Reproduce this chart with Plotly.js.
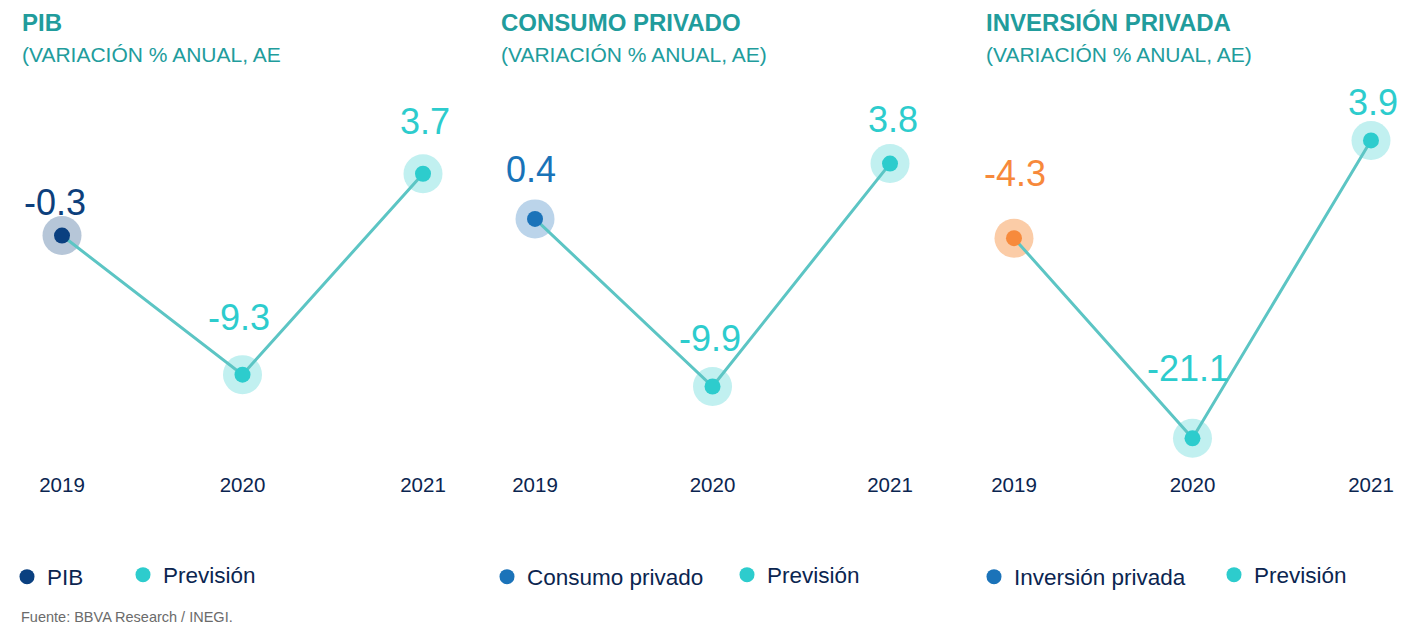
<!DOCTYPE html>
<html>
<head>
<meta charset="utf-8">
<script src="https://cdn.plot.ly/plotly-3.0.1.min.js"></script>
<style>html,body{margin:0;padding:0;background:#fff}#chart{width:1423px;height:635px}</style>
</head>
<body>
<div id="chart"></div>
<script>
// ---- data ----
const years = [2019, 2020, 2021];
const pib = [-0.3, -9.3, 3.7];
const consumo = [0.4, -9.9, 3.8];
const inversion = [-4.3, -21.1, 3.9];
const panelTitles = ['PIB', 'CONSUMO PRIVADO', 'INVERSIÓN PRIVADA'];
const panelSubtitles = ['(VARIACIÓN % ANUAL, AE', '(VARIACIÓN % ANUAL, AE)', '(VARIACIÓN % ANUAL, AE)'];
const legendNames = ['PIB', 'Consumo privado', 'Inversión privada'];
const forecastName = 'Previsión';
const sourceText = 'Fuente: BBVA Research / INEGI.';

// ---- styles ----
const W = 1423, H = 635;
const FONT = 'Liberation Sans, Arial, sans-serif';
const TEAL_TITLE = '#219c9c';
const NAVY_TEXT = '#0b2550';
const AQUA = '#2dcccd', AQUA_HALO = '#c1f0f0';
const LINE = '#5cc5c4';
const panels = [
  {vals: pib, dom: [0, 470], xr: [2018.6565, 2021.2604], yr: [-15.47, 14.94],
   first: '#0a4080', firstHalo: '#b6c6d8', firstLabel: '#0d3f7c', legendColor: '#0a4080',
   titleX: 20, legX: [29, 145], shifts: [[-7,33],[-4,57],[2,52]]},
  {vals: consumo, dom: [480, 950], xr: [2018.690, 2021.338], yr: [-15.03, 13.85],
   first: '#1b73b9', firstHalo: '#bbd4ea', firstLabel: '#1973b8', legendColor: '#1b73b9',
   titleX: 499, legX: [509, 749], shifts: [[-4,49],[-3,48],[3,44]]},
  {vals: inversion, dom: [960, 1423], xr: [2018.6975, 2021.2914], yr: [-23.76, 15.69],
   first: '#f78a3c', firstHalo: '#fbcca7', firstLabel: '#f7893b', legendColor: '#1b73b9',
   titleX: 984, legX: [996, 1236], shifts: [[1,65],[-4,70],[2,38]]}
];
const plotBottom = 470;

const data = [];
const layout = {
  width: W, height: H,
  margin: {l: 0, r: 0, t: 0, b: 0},
  paper_bgcolor: '#fff', plot_bgcolor: 'rgba(0,0,0,0)',
  font: {family: FONT, color: NAVY_TEXT},
  annotations: [],
  showlegend: true
};

let legendIdx = 1;
panels.forEach((p, i) => {
  const xa = 'x' + (i === 0 ? '' : i + 1);
  const ya = 'y' + (i === 0 ? '' : i + 1);
  const xkey = 'xaxis' + (i === 0 ? '' : i + 1);
  const ykey = 'yaxis' + (i === 0 ? '' : i + 1);
  layout[xkey] = {
    domain: [p.dom[0] / W, p.dom[1] / W], range: p.xr, anchor: ya,
    tickvals: years, ticktext: years.map(String), ticks: '', showgrid: false,
    zeroline: false, showline: false, fixedrange: true,
    tickfont: {family: FONT, size: 20.5, color: NAVY_TEXT}
  };
  layout[ykey] = {
    domain: [(H - plotBottom) / H, 1], range: p.yr, anchor: xa,
    visible: false, showgrid: false, zeroline: false, fixedrange: true
  };
  const haloColors = [p.firstHalo, AQUA_HALO, AQUA_HALO];
  const dotColors = [p.first, AQUA, AQUA];
  const labelColors = [p.firstLabel, AQUA, AQUA];
  // halos
  data.push({type: 'scatter', mode: 'markers', x: years, y: p.vals, xaxis: xa, yaxis: ya,
    marker: {size: 39, color: haloColors, line: {width: 0}}, showlegend: false, hoverinfo: 'skip'});
  // line
  data.push({type: 'scatter', mode: 'lines', x: years, y: p.vals, xaxis: xa, yaxis: ya,
    line: {color: LINE, width: 3}, showlegend: false, hoverinfo: 'skip'});
  // dots
  data.push({type: 'scatter', mode: 'markers', x: years, y: p.vals, xaxis: xa, yaxis: ya,
    marker: {size: 16, color: dotColors, line: {width: 0}}, showlegend: false});
  // value labels
  p.vals.forEach((v, j) => {
    layout.annotations.push({
      x: years[j], y: v, xref: xa, yref: ya, text: v.toFixed(1), showarrow: false,
      xshift: p.shifts[j][0], yshift: p.shifts[j][1],
      font: {family: FONT, size: 36, color: labelColors[j]}
    });
  });
  // titles
  layout.annotations.push({
    xref: 'paper', yref: 'paper', x: p.titleX / W, y: 1 - 23 / H, xanchor: 'left', yanchor: 'middle',
    text: '<b>' + panelTitles[i] + '</b>', showarrow: false,
    font: {family: FONT, size: 24, color: TEAL_TITLE}
  });
  layout.annotations.push({
    xref: 'paper', yref: 'paper', x: p.titleX / W, y: 1 - 54 / H, xanchor: 'left', yanchor: 'middle',
    text: panelSubtitles[i], showarrow: false,
    font: {family: FONT, size: 21, color: TEAL_TITLE}
  });
  // legends
  const items = [{name: legendNames[i], color: p.legendColor, cy: 577},
                 {name: forecastName, color: AQUA, cy: 575}];
  items.forEach((it, k) => {
    const key = legendIdx === 1 ? 'legend' : 'legend' + legendIdx;
    data.push({type: 'scatter', mode: 'markers', x: [null], y: [null], xaxis: xa, yaxis: ya,
      name: it.name, legend: key, marker: {size: 15, color: it.color}, showlegend: true});
    layout[key] = {
      x: (p.legX[k] - 22) / W, y: 1 - it.cy / H, xanchor: 'left', yanchor: 'middle',
      orientation: 'h', bgcolor: 'rgba(0,0,0,0)', borderwidth: 0,
      font: {family: FONT, size: 22.5, color: NAVY_TEXT}
    };
    legendIdx++;
  });
});

layout.annotations.push({
  xref: 'paper', yref: 'paper', x: 19 / W, y: 1 - 617 / H, xanchor: 'left', yanchor: 'middle',
  text: sourceText, showarrow: false, font: {family: FONT, size: 14.5, color: '#6b6b6b'}
});

Plotly.newPlot('chart', data, layout, {displayModeBar: false, staticPlot: true});
</script>
</body>
</html>
